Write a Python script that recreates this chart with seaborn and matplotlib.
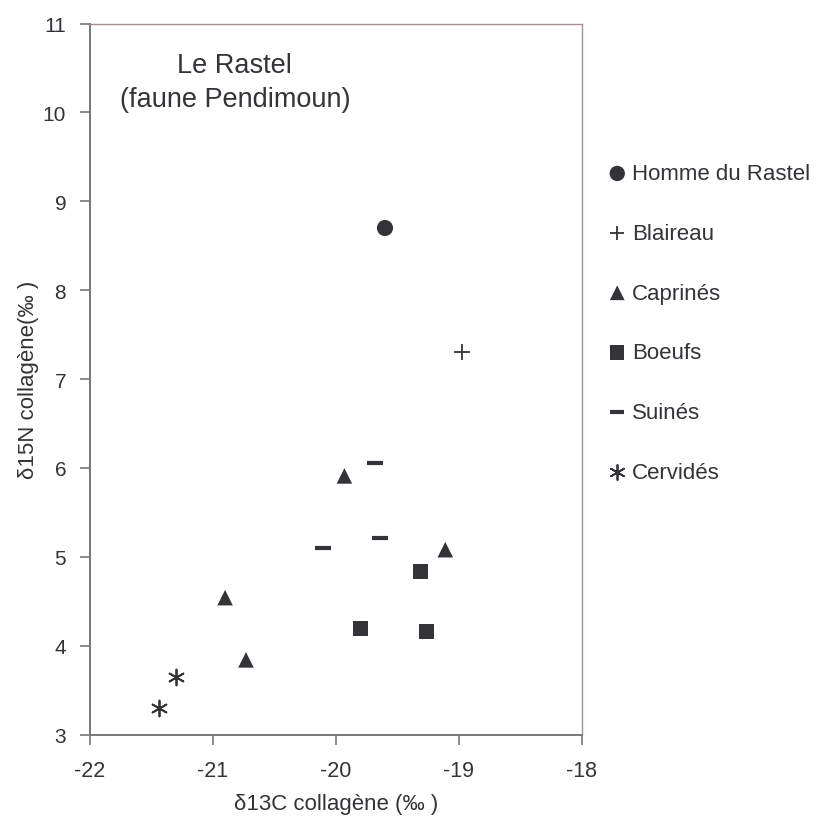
import numpy as np
import pandas as pd
import seaborn as sns
import matplotlib.pyplot as plt

# DATA
species = ['Homme du Rastel', 'Blaireau', 'Caprinés', 'Boeufs', 'Suinés', 'Cervidés']
d13c = {
    'Homme du Rastel': [-19.60],
    'Blaireau': [-18.97],
    'Caprinés': [-19.93, -19.11, -20.90, -20.73],
    'Boeufs': [-19.31, -19.80, -19.26],
    'Suinés': [-19.68, -20.10, -19.64],
    'Cervidés': [-21.30, -21.44],
}
d15n = {
    'Homme du Rastel': [8.70],
    'Blaireau': [7.30],
    'Caprinés': [5.91, 5.08, 4.54, 3.84],
    'Boeufs': [4.83, 4.19, 4.16],
    'Suinés': [6.06, 5.10, 5.21],
    'Cervidés': [3.65, 3.30],
}

rows = []
for sp in species:
    for x, y in zip(d13c[sp], d15n[sp]):
        rows.append({'species': sp, 'd13C': x, 'd15N': y})
df = pd.DataFrame(rows)

#STYLE
sns.set_style('white')
plt.rcParams['font.family'] = ['Liberation Sans', 'DejaVu Sans']
ink = '#333338'
markers = {'Homme du Rastel': 'o', 'Blaireau': '+', 'Caprinés': '^',
           'Boeufs': 's', 'Suinés': '_', 'Cervidés': (6, 2, 0)}
sizes = {'Homme du Rastel': 135, 'Blaireau': 120, 'Caprinés': 125,
         'Boeufs': 115, 'Suinés': 120, 'Cervidés': 130}
lws = {'Homme du Rastel': 0, 'Blaireau': 1.3, 'Caprinés': 0,
       'Boeufs': 0, 'Suinés': 3.0, 'Cervidés': 1.3}

fig = plt.figure(figsize=(8.16, 8.2), dpi=100)
ax = fig.add_axes([0.110, 0.103, 0.603, 0.867])

#one call per group: seaborn refuses to mix filled and line markers
for sp in species:
    sub = df[df['species'] == sp]
    sns.scatterplot(data=sub, x='d13C', y='d15N', marker=markers[sp], s=sizes[sp],
                    color=ink, linewidth=lws[sp], edgecolor=ink if lws[sp] else 'none',
                    label=sp, ax=ax, zorder=3)

ax.set_xlim(-22, -18)
ax.set_ylim(3, 11)
ax.set_xticks([-22, -21, -20, -19, -18])
ax.set_yticks(range(3, 12))
ax.set_xticklabels(['-22', '-21', '-20', '-19', '-18'])
ax.tick_params(axis='both', bottom=True, left=True, direction='out', length=7, width=1.2,
               color='#777777', labelsize=15, labelcolor=ink, pad=10)
ax.tick_params(axis='x', labelsize=15.5, pad=11)
for side in ['left', 'bottom']:
    ax.spines[side].set_color('#777777')
    ax.spines[side].set_linewidth(1.4)
for side in ['top', 'right']:
    ax.spines[side].set_color('#a89090')
    ax.spines[side].set_linewidth(1.0)

ax.set_xlabel('δ13C collagène (‰ )', fontsize=16, color=ink, labelpad=9)
ax.set_ylabel('δ15N collagène(‰ )', fontsize=16, color=ink, labelpad=3)

ax.text(0.295, 0.918, 'Le Rastel\n(faune Pendimoun)', transform=ax.transAxes,
        ha='center', va='center', fontsize=19.5, color=ink, linespacing=1.4)

ax.legend(loc='upper left', bbox_to_anchor=(0.736, 0.8105), bbox_transform=fig.transFigure,
          frameon=False, fontsize=16, labelspacing=1.74, handlelength=0.7,
          handletextpad=0.3, borderaxespad=0, labelcolor=ink, markerscale=0.95)

fig.savefig('out.png', dpi=100)
